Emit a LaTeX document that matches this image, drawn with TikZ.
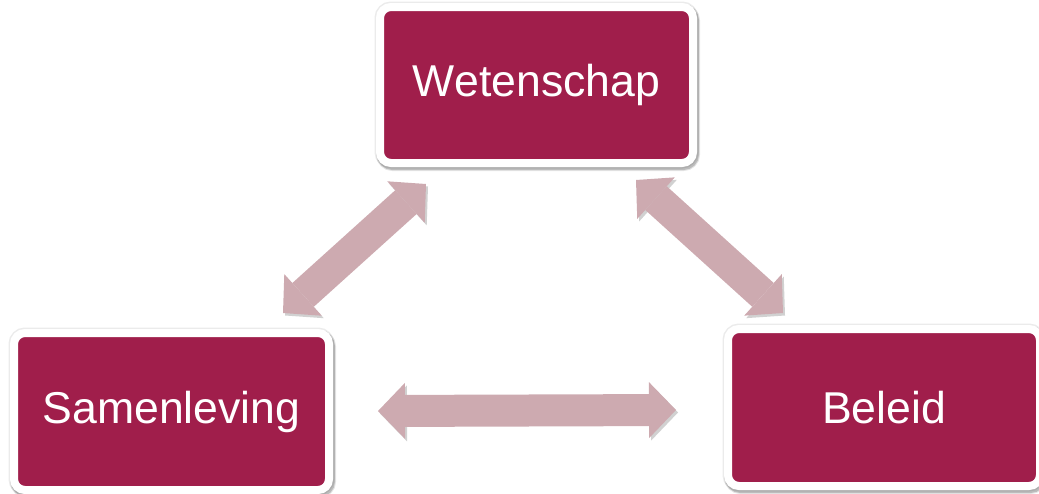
\documentclass[tikz,border=0pt]{standalone}
\usepackage{fontspec}
\setmainfont{Liberation Sans}
\usetikzlibrary{arrows.meta,shadows}
\definecolor{boxred}{HTML}{A01E4B}
\definecolor{arrowpink}{HTML}{CDAAB0}
\tikzset{
  box/.style={fill=boxred, draw=white, line width=8pt, rounded corners=11pt,
    text=white, font=\fontsize{44.6}{53}\selectfont, inner sep=0pt,
    general shadow={shadow xshift=0pt, shadow yshift=0pt, fill=black, draw=black, opacity=0.08, line width=11pt},
    general shadow={shadow xshift=1.5pt, shadow yshift=-2.5pt, fill=black, draw=black, opacity=0.10, line width=11pt},
    general shadow={shadow xshift=1.5pt, shadow yshift=-2.5pt, fill=black, draw=black, opacity=0.18, line width=9pt}},
  bigarrow/.style={draw=arrowpink, line width=32pt,
    {Triangle[length=27pt 0 0, width=56pt 0 0, line width=0pt]}-{Triangle[length=27pt 0 0, width=56pt 0 0, line width=0pt]},
    preaction={draw=black!18, transform canvas={shift={(2pt,-2.5pt)}}}}
}
\begin{document}
\begin{tikzpicture}[x=1pt,y=-1pt]
\useasboundingbox (0,0) rectangle (1039,493);
\node[box, minimum width=313pt, minimum height=156pt] (wet) at (536.5,85) {Wetenschap};
\node[box, minimum width=315pt, minimum height=157pt] (sam) at (171.5,411.5) {Samenleving};
\node[box, minimum width=312pt, minimum height=157pt] (bel) at (884,407.5) {Beleid};
\coordinate (l1) at (283,313);
\coordinate (l2) at (426,184);
\coordinate (r1) at (636,180);
\coordinate (r2) at (783,313);
\coordinate (h1) at (378,411);
\coordinate (h2) at (676,410);
\draw[bigarrow] (l1) -- (l2);
\draw[bigarrow] (r1) -- (r2);
\draw[bigarrow] (h1) -- (h2);
\end{tikzpicture}
\end{document}
